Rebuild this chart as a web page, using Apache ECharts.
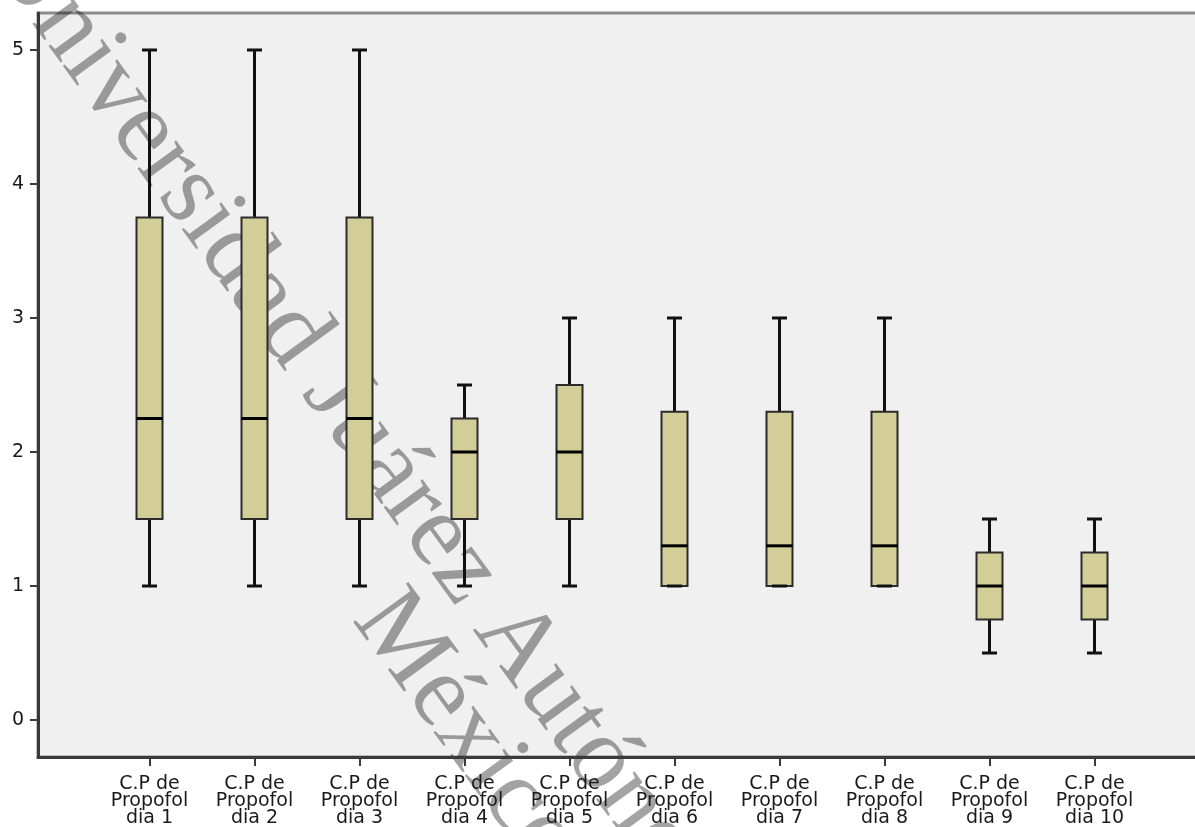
<!DOCTYPE html>
<html>
<head>
<meta charset="utf-8">
<script src="https://cdn.jsdelivr.net/npm/echarts@6/dist/echarts.min.js"></script>
<style>
  html, body { margin: 0; padding: 0; background: #ffffff; }
  #chart { width: 1195px; height: 827px; }
</style>
</head>
<body>
<div id="chart"></div>
<script>
// Propofol C.P per day: five-number summaries for each box
const categories = [
  'C.P de\nPropofol\ndia 1', 'C.P de\nPropofol\ndia 2', 'C.P de\nPropofol\ndia 3',
  'C.P de\nPropofol\ndia 4', 'C.P de\nPropofol\ndia 5', 'C.P de\nPropofol\ndia 6',
  'C.P de\nPropofol\ndia 7', 'C.P de\nPropofol\ndia 8', 'C.P de\nPropofol\ndia 9',
  'C.P de\nPropofol\ndia 10'
];
const lowWhisker  = [1, 1, 1, 1, 1, 1, 1, 1, 0.5, 0.5];
const q1          = [1.5, 1.5, 1.5, 1.5, 1.5, 1, 1, 1, 0.75, 0.75];
const median      = [2.25, 2.25, 2.25, 2, 2, 1.3, 1.3, 1.3, 1, 1];
const q3          = [3.75, 3.75, 3.75, 2.25, 2.5, 2.3, 2.3, 2.3, 1.25, 1.25];
const highWhisker = [5, 5, 5, 2.5, 3, 3, 3, 3, 1.5, 1.5];
const yTicks = [0, 1, 2, 3, 4, 5];

const watermarkLine1 = 'Universidad Juárez Autónoma de Tabasco';
const watermarkLine2 = 'México';

const Y_MIN = -0.276, Y_MAX = 5.276;
const AXIS_COLOR = '#3a3a3a';
const LABEL_FONT = 'DejaVu Sans';

const boxRows = categories.map((c, i) => [i, lowWhisker[i], q1[i], median[i], q3[i], highWhisker[i]]);

const chart = echarts.init(document.getElementById('chart'), null, { renderer: 'canvas' });

function renderBox(params, api) {
  const i = api.value(0);
  const pLow = api.coord([i, api.value(1)]);
  const pQ1 = api.coord([i, api.value(2)]);
  const pMed = api.coord([i, api.value(3)]);
  const pQ3 = api.coord([i, api.value(4)]);
  const pHigh = api.coord([i, api.value(5)]);
  const x = pLow[0];
  const half = 13;
  const cap = 7.5;
  const whisker = { stroke: '#111111', lineWidth: 3 };
  return {
    type: 'group',
    children: [
      { type: 'line', shape: { x1: x, y1: pHigh[1], x2: x, y2: pQ3[1] }, style: whisker },
      { type: 'line', shape: { x1: x, y1: pQ1[1], x2: x, y2: pLow[1] }, style: whisker },
      {
        type: 'rect',
        shape: { x: x - half, y: pQ3[1], width: half * 2, height: pQ1[1] - pQ3[1] },
        style: { fill: '#d3ce97', stroke: '#2b2b2b', lineWidth: 2 }
      },
      { type: 'line', shape: { x1: x - half, y1: pMed[1], x2: x + half, y2: pMed[1] }, style: { stroke: '#000000', lineWidth: 3 } },
      { type: 'line', shape: { x1: x - cap, y1: pLow[1], x2: x + cap, y2: pLow[1] }, style: whisker },
      { type: 'line', shape: { x1: x - cap, y1: pHigh[1], x2: x + cap, y2: pHigh[1] }, style: whisker }
    ]
  };
}

const option = {
  animation: false,
  backgroundColor: '#ffffff',
  grid: [
    // frame: shaded plot area with the value axis on the left, open past the right edge
    {
      left: 38, top: 13, width: 1190, bottom: 70, show: true, containLabel: false,
      outerBoundsMode: 'none',
      backgroundColor: '#f0f0f0', borderColor: '#8c8c8c', borderWidth: 3
    },
    // category band for the ten boxes
    { left: 97, width: 1050, top: 13, bottom: 70, containLabel: false, outerBoundsMode: 'none' }
  ],
  xAxis: [
    {
      gridIndex: 0, type: 'value', min: 0, max: 1,
      axisLine: { show: true, onZero: false, lineStyle: { color: AXIS_COLOR, width: 3 } },
      axisTick: { show: false }, axisLabel: { show: false }, splitLine: { show: false }
    },
    {
      gridIndex: 1, type: 'category', data: categories, boundaryGap: true,
      axisLine: { show: false, onZero: false },
      axisTick: { show: true, alignWithLabel: true, length: 9, lineStyle: { color: AXIS_COLOR, width: 2 } },
      axisLabel: {
        interval: 0, margin: 19, color: '#1a1a1a',
        fontFamily: LABEL_FONT, fontSize: 19, lineHeight: 17, align: 'center'
      },
      splitLine: { show: false }
    }
  ],
  yAxis: [
    {
      gridIndex: 0, type: 'value', min: Y_MIN, max: Y_MAX,
      axisLine: { show: true, onZero: false, lineStyle: { color: AXIS_COLOR, width: 3 } },
      axisTick: { show: true, customValues: yTicks, length: 8, lineStyle: { color: AXIS_COLOR, width: 2 } },
      axisLabel: {
        customValues: yTicks, margin: 14, color: '#1a1a1a',
        fontFamily: LABEL_FONT, fontSize: 19, padding: [6, 0, 0, 0]
      },
      splitLine: { show: false }
    },
    { gridIndex: 1, type: 'value', min: Y_MIN, max: Y_MAX, show: false }
  ],
  series: [
    {
      type: 'custom',
      xAxisIndex: 1, yAxisIndex: 1,
      data: boxRows,
      encode: { x: 0, y: [1, 2, 3, 4, 5] },
      renderItem: renderBox,
      clip: false,
      z: 5
    }
  ],
  graphic: [
    {
      type: 'group',
      x: 9, y: -55,
      rotation: -54 * Math.PI / 180,
      z: 100,
      silent: true,
      children: [
        {
          type: 'text', x: 0, y: 0,
          style: {
            text: watermarkLine1, fill: 'rgba(0,0,0,0.36)',
            font: '104px "Liberation Serif"', textAlign: 'left', textVerticalAlign: 'middle'
          }
        },
        {
          type: 'text', x: 747, y: 92,
          style: {
            text: watermarkLine2, fill: 'rgba(0,0,0,0.36)',
            font: '104px "Liberation Serif"', textAlign: 'left', textVerticalAlign: 'middle'
          }
        }
      ]
    }
  ]
};

chart.setOption(option);
</script>
</body>
</html>
